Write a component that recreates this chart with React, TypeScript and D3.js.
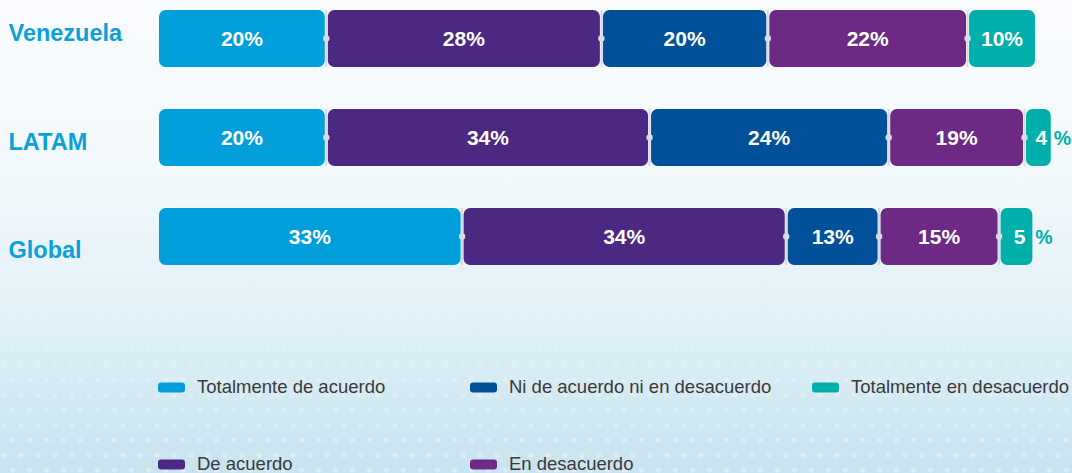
import React from "react";
import * as d3 from "d3";

const categories = ["Venezuela", "LATAM", "Global"];
const series = [
  "Totalmente de acuerdo",
  "De acuerdo",
  "Ni de acuerdo ni en desacuerdo",
  "En desacuerdo",
  "Totalmente en desacuerdo",
];
const seriesColors = ["#009FDB", "#4B2882", "#00509A", "#6D2A85", "#00AFA9"];

// Percent labels shown on the bars
const venezuelaLabels = [20, 28, 20, 22, 10];
const latamLabels = [20, 34, 24, 19, 4];
const globalLabels = [33, 34, 13, 15, 5];

// Segment lengths as drawn in the picture (same unit for all rows)
const venezuelaLengths = [19.1, 31.4, 19.0, 22.8, 7.7];
const latamLengths = [19.1, 36.9, 27.3, 15.5, 3.0];
const globalLengths = [34.6, 37.0, 10.6, 13.7, 3.8];

const rowLabels = [venezuelaLabels, latamLabels, globalLabels];
const rowLengths = [venezuelaLengths, latamLengths, globalLengths];

const W = 1072;
const H = 473;

export default function App() {
  const x = d3.scaleLinear().domain([0, 100]).range([159, 1035]);
  const y = d3.scaleBand<string>().domain(categories).range([10, 265]).paddingInner(0.424).paddingOuter(0);
  const labelY = d3.scalePoint<string>().domain(categories).range([41, 258]);
  const bw = y.bandwidth();
  const gap = 1.5;
  const smallThreshold = 6;

  const legendCols = [158, 470, 812];
  const legendRows = [393, 470];

  return (
    <svg
      width={W}
      height={H}
      style={{ position: "absolute", left: 0, top: 0, display: "block" }}
      fontFamily="'Liberation Sans', Arial, Helvetica, sans-serif"
    >
      <defs>
        <linearGradient id="bg" x1="0" y1="0" x2="0" y2="1">
          <stop offset="0" stopColor="#fafcfe" />
          <stop offset="0.4" stopColor="#f1f8fb" />
          <stop offset="0.65" stopColor="#e2f1f7" />
          <stop offset="1" stopColor="#c8e4f0" />
        </linearGradient>
        <linearGradient id="fade" x1="0" y1="0" x2="0" y2="1">
          <stop offset="0.58" stopColor="#fff" stopOpacity="0" />
          <stop offset="1" stopColor="#fff" stopOpacity="1" />
        </linearGradient>
        <mask id="dotMask">
          <rect x={0} y={0} width={W} height={H} fill="url(#fade)" />
        </mask>
        <pattern id="dots" x={0} y={0} width={17} height={30} patternUnits="userSpaceOnUse">
          <circle cx={4} cy={5} r={2.6} fill="#ffffff" />
          <circle cx={12.5} cy={20} r={2.6} fill="#ffffff" />
        </pattern>
      </defs>
      <rect x={0} y={0} width={W} height={H} fill="url(#bg)" />
      <rect x={0} y={0} width={W} height={H} fill="url(#dots)" opacity={0.35} mask="url(#dotMask)" />

      {categories.map((cat, ri) => {
        const lengths = rowLengths[ri];
        const labels = rowLabels[ri];
        const top = y(cat)!;
        const cy = top + bw / 2;
        let acc = 0;
        const segs = lengths.map((v, i) => {
          const s = acc;
          acc += v;
          return { s, e: acc, i };
        });
        return (
          <g key={cat}>
            <text x={8.5} y={labelY(cat)} fill="#0AA0DC" fontSize={23.5} fontWeight="bold">
              {cat}
            </text>
            {segs.map(({ s, e, i }) => {
              const x0 = x(s) + (i === 0 ? 0 : gap);
              const x1 = x(e) - (i === segs.length - 1 ? 0 : gap);
              const mid = (x0 + x1) / 2;
              const small = labels[i] < smallThreshold;
              return (
                <g key={i}>
                  <rect x={x0} y={top} width={x1 - x0} height={bw} rx={6.5} fill={seriesColors[i]} />
                  {small ? (
                    <>
                      <text x={mid + 3} y={cy} dy="0.36em" textAnchor="middle" fill="#fff" fontSize={21} fontWeight="bold">
                        {labels[i]}
                      </text>
                      <text x={x1 + 3} y={cy} dy="0.36em" textAnchor="start" fill={seriesColors[i]} fontSize={19.5} fontWeight="bold">
                        %
                      </text>
                    </>
                  ) : (
                    <text x={mid} y={cy} dy="0.36em" textAnchor="middle" fill="#fff" fontSize={21} fontWeight="bold">
                      {labels[i] + "%"}
                    </text>
                  )}
                </g>
              );
            })}
            {segs.slice(1).map(({ s, i }) => (
              <g key={"sep" + i}>
                <rect x={x(s) - 1} y={top} width={2} height={bw} fill="#d9dbe0" />
                <circle cx={x(s)} cy={cy} r={3.2} fill="#d9dbe0" />
              </g>
            ))}
          </g>
        );
      })}

      {series.map((name, i) => {
        const col = Math.floor(i / 2);
        const row = i % 2;
        const lx = legendCols[col];
        const ly = legendRows[row];
        return (
          <g key={name}>
            <rect x={lx} y={ly - 10.5} width={27} height={10} rx={3} fill={seriesColors[i]} />
            <text x={lx + 39} y={ly} fill="#3a3a3a" fontSize={18.5}>
              {name}
            </text>
          </g>
        );
      })}
    </svg>
  );
}
